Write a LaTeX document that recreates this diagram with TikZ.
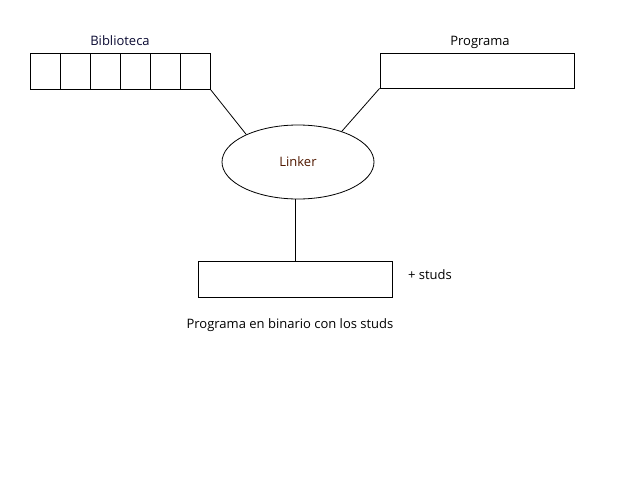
\documentclass[tikz,border=0pt]{standalone}
\usepackage{fontspec}
\setmainfont{Open Sans}
\usetikzlibrary{positioning,shapes.geometric}
\definecolor{marron}{RGB}{80,24,0}
\definecolor{azulosc}{RGB}{10,10,50}

\begin{document}
\begin{tikzpicture}[x=1pt,y=-1pt,font=\fontsize{13}{15}\selectfont,
    caja/.style={draw,line width=0.9pt,inner sep=0pt,minimum height=36pt},
    linea/.style={line width=0.8pt}]
  \useasboundingbox (0,0) rectangle (640,480);
  % biblioteca
  \foreach \i in {1,...,6}
    \node[caja,minimum width=30pt] (celda\i) at (15+30*\i,71) {};
  \node[text=azulosc] (lbib) at (120,41) {Biblioteca};
  % programa
  \node[caja,minimum width=194pt,minimum height=35pt] (prog) at (477,70.5) {};
  \node (lprog) at (480,42) {Programa};
  % linker
  \node[draw,ellipse,line width=0.8pt,inner sep=0pt,minimum width=152pt,
    minimum height=74pt,text=marron] (link) at (298,162) {Linker};
  % salida
  \node[caja,minimum width=194pt] (salida) at (295,279) {};
  \node (studs) at (430,275) {+ studs};
  \node (texto) at (290,325) {Programa en binario con los studs};
  \draw[linea] (celda6.south east) -- (link.152);
  \draw[linea] (prog.south west) -- (link.35);
  \draw[linea] (salida.north |- link.south) -- (salida.north);
\end{tikzpicture}
\end{document}
